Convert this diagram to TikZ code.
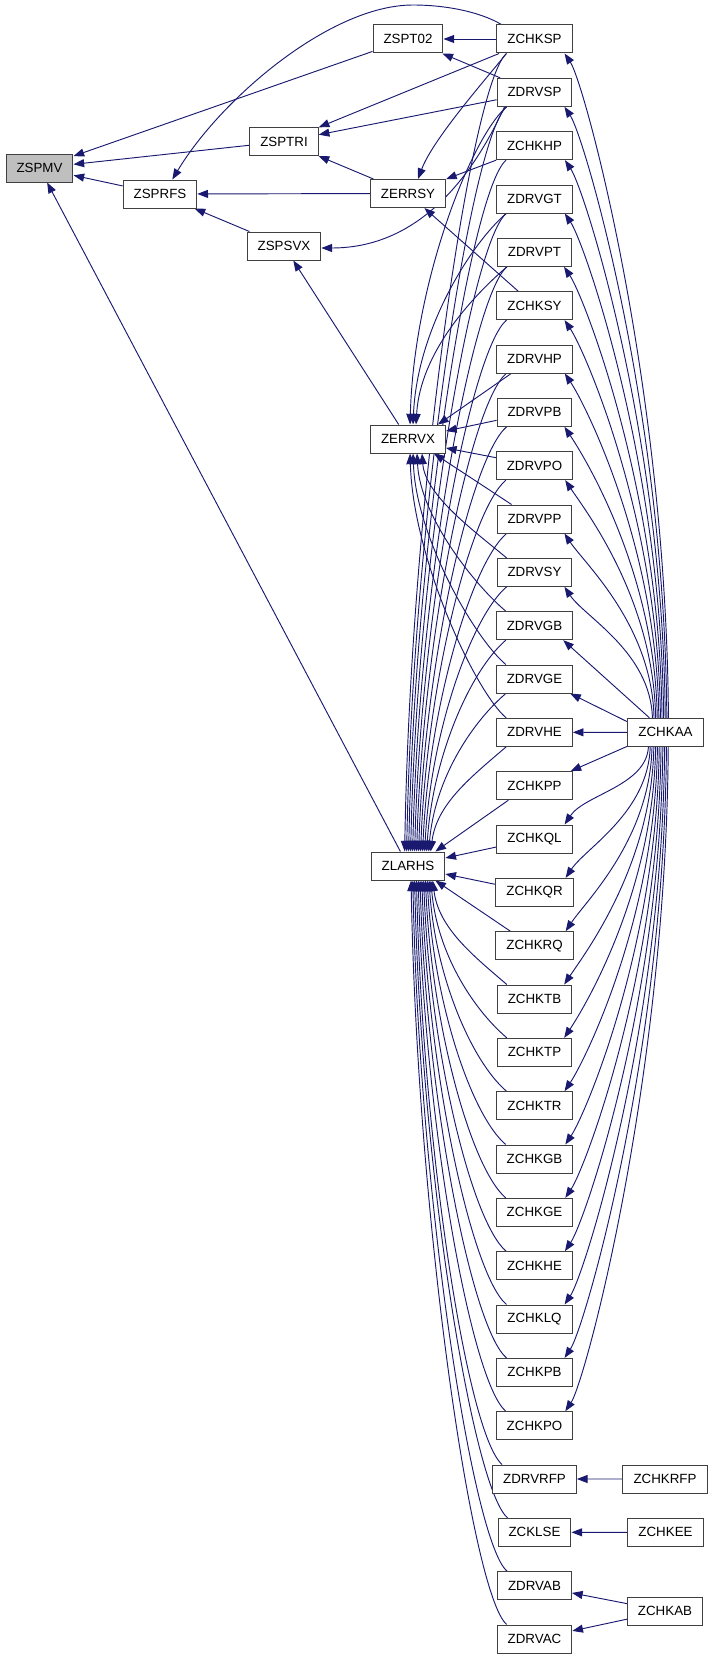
\documentclass[tikz,border=0pt]{standalone}
\usepackage{fontspec}
\setmainfont{Liberation Sans}
\usetikzlibrary{arrows.meta,calc,backgrounds}
\definecolor{edgecol}{HTML}{191970}
\definecolor{bordercol}{HTML}{404040}
\definecolor{greyfill}{HTML}{BFBFBF}
\begin{document}
\begin{tikzpicture}[x=0.75pt,y=-0.75pt,
  fnbox/.style={draw=bordercol, line width=0.75pt, fill=white, minimum height=21pt,
    inner xsep=7.9pt, inner ysep=0pt, font=\fontsize{10}{12}\selectfont},
  calledge/.style={draw=edgecol, line width=0.7pt, -{Triangle[length=8pt,width=6pt]}}]
\useasboundingbox (0,0) rectangle (712,1659);
% left part
\node[fnbox, fill=greyfill] (zspmv) at (39.5,168) {ZSPMV};
\node[fnbox] (zsprfs) at (160,194) {ZSPRFS};
\node[fnbox] (zsptri) at (284,141.5) {ZSPTRI};
\node[fnbox] (zspt02) at (408,39) {ZSPT02};
\node[fnbox] (zspsvx) at (284,246) {ZSPSVX};
\node[fnbox] (zerrsy) at (408,193.5) {ZERRSY};
\node[fnbox] (zerrvx) at (408,439) {ZERRVX};
\node[fnbox] (zlarhs) at (408,866) {ZLARHS};
% right column
\foreach \n [count=\k from 0] in {ZCHKSP,ZDRVSP,ZCHKHP,ZDRVGT,ZDRVPT,ZCHKSY,ZDRVHP,ZDRVPB,ZDRVPO,ZDRVPP,ZDRVSY,ZDRVGB,ZDRVGE,ZDRVHE,ZCHKPP,ZCHKQL,ZCHKQR,ZCHKRQ,ZCHKTB,ZCHKTP,ZCHKTR,ZCHKGB,ZCHKGE,ZCHKHE,ZCHKLQ,ZCHKPB,ZCHKPO,ZDRVRFP,ZCKLSE,ZDRVAB,ZDRVAC}
  \node[fnbox] (r\k) at (534.5,39+53.333*\k) {\n};
% far right
\node[fnbox] (zchkaa) at (665.5,732.3) {ZCHKAA};
\node[fnbox] (zchkrfp) at (665,1479) {ZCHKRFP};
\node[fnbox] (zchkee) at (665.5,1532.3) {ZCHKEE};
\node[fnbox] (zchkab) at (665,1611) {ZCHKAB};
\coordinate (arcpeak) at (413,5);

\begin{pgfonlayer}{background}
% into ZSPMV
\draw[calledge] (zspt02) -- (zspmv);
\draw[calledge] (zsptri) -- (zspmv);
\draw[calledge] (zsprfs) -- (zspmv);
\draw[calledge] (zlarhs) -- (zspmv);
% into ZSPT02
\draw[calledge] (r0) -- (zspt02);
\draw[calledge] (r1) -- (zspt02);
% into ZSPTRI
\draw[calledge] (r0) -- (zsptri);
\draw[calledge] (r1) -- (zsptri);
\draw[calledge] (zerrsy) -- (zsptri);
% into ZSPRFS
\draw[calledge] (zerrsy) -- (zsprfs);
\draw[calledge] (zspsvx) -- (zsprfs);
\draw[calledge] ($(r0.north west)+(5,0)$) .. controls +(-22,-13) and +(32,0) .. (arcpeak)
   .. controls +(-83,0) and +(48,-80) .. ($(zsprfs.north east)+(-25,0)$);
% into ZSPSVX
\draw[calledge] (zerrvx) -- (zspsvx);
\draw[calledge] ($(r1.south west)+(8,0)$) .. controls +(-25,54) and +(107,0) .. ($(zspsvx.east)+(0,2)$);
% into ZERRSY
\draw[calledge] (r2) -- (zerrsy);
\draw[calledge] (r5) -- (zerrsy);
\draw[calledge] ($(r0.south west)+(10,0)$) .. controls +(-20,25) and +(15,-40) .. ($(zerrsy.north)+(10,0)$);
% into ZERRVX
\foreach \i/\dx in {1/40,3/43,4/46} {
  \pgfmathsetmacro\dd{0.45*(425-(53+53.333*\i))}
  \draw[calledge] ($(r\i.south west)+(10,0)$) .. controls +(-35,30) and +(4,-\dd) .. ($(zerrvx.north west)+(\dx,0)$);
}
\draw[calledge] ($(r6.south west)+(15,0)$) -- ($(zerrvx.north east)+(-8,0)$);
\draw[calledge] ($(r7.west)+(0,8)$) -- ($(zerrvx.east)+(0,-8)$);
\draw[calledge] ($(r8.west)+(0,-8)$) -- ($(zerrvx.east)+(0,9)$);
\draw[calledge] ($(r9.north west)+(15,0)$) -- ($(zerrvx.south east)+(-12,0)$);
\foreach \i/\dx in {10/52,11/47,12/43,13/40} {
  \pgfmathsetmacro\dd{0.4*((39+53.333*\i-14)-453)}
  \draw[calledge] ($(r\i.north west)+(10,0)$) .. controls +(-30,-25) and +(3,\dd) .. ($(zerrvx.south west)+(\dx,0)$);
}
% into ZLARHS
\foreach \i in {0,...,13} {
  \pgfmathsetmacro\dx{34+2*\i}
  \pgfmathsetmacro\dd{0.45*(852-(53+53.333*\i))}
  \draw[calledge] ($(r\i.south west)+(10,0)$) .. controls +(-35,30) and +(6,-\dd) .. ($(zlarhs.north west)+(\dx,0)$);
}
\draw[calledge] ($(r14.south west)+(12,0)$) -- ($(zlarhs.north east)+(-10,0)$);
\draw[calledge] ($(r15.west)+(0,8)$) -- ($(zlarhs.east)+(0,-8)$);
\draw[calledge] ($(r16.west)+(0,-8)$) -- ($(zlarhs.east)+(0,8)$);
\draw[calledge] ($(r17.north west)+(15,0)$) -- ($(zlarhs.south east)+(-10,0)$);
\foreach \i in {18,...,30} {
  \pgfmathsetmacro\dx{62-1.8*(\i-18)}
  \pgfmathsetmacro\dd{0.45*((39+53.333*\i-14)-880)}
  \draw[calledge] ($(r\i.north west)+(10,0)$) .. controls +(-35,-30) and +(6,\dd) .. ($(zlarhs.south west)+(\dx,0)$);
}
% from ZCHKAA
\foreach \i in {0,...,10} {
  \pgfmathsetmacro\dx{41-1.6*\i}
  \pgfmathsetmacro\dd{0.5*(718-(53+53.333*\i))}
  \draw[calledge] ($(zchkaa.north west)+(\dx,0)$) .. controls +(-2,-\dd) and +(20,30) .. ($(r\i.south east)+(-8,0)$);
}
\draw[calledge] ($(zchkaa.north west)+(22,0)$) -- ($(r11.south east)+(-10,0)$);
\draw[calledge] ($(zchkaa.north west)+(0,4)$) -- ($(r12.south east)+(-3,0)$);
\draw[calledge] (zchkaa) -- (r13);
\draw[calledge] ($(zchkaa.south west)+(1,-1)$) -- ($(r14.north east)+(-2,0)$);
\foreach \i in {15,...,26} {
  \pgfmathsetmacro\dx{21+1.8*(\i-15)}
  \pgfmathsetmacro\dd{0.5*((39+53.333*\i-14)-747)}
  \draw[calledge] ($(zchkaa.south west)+(\dx,0)$) .. controls +(-2,\dd) and +(20,-30) .. ($(r\i.north east)+(-8,0)$);
}
% bottom callers
\draw[calledge] (zchkrfp) -- (r27);
\draw[calledge] (zchkee) -- (r28);
\draw[calledge] (zchkab) -- (r29);
\draw[calledge] (zchkab) -- (r30);
\end{pgfonlayer}
\end{tikzpicture}
\end{document}
